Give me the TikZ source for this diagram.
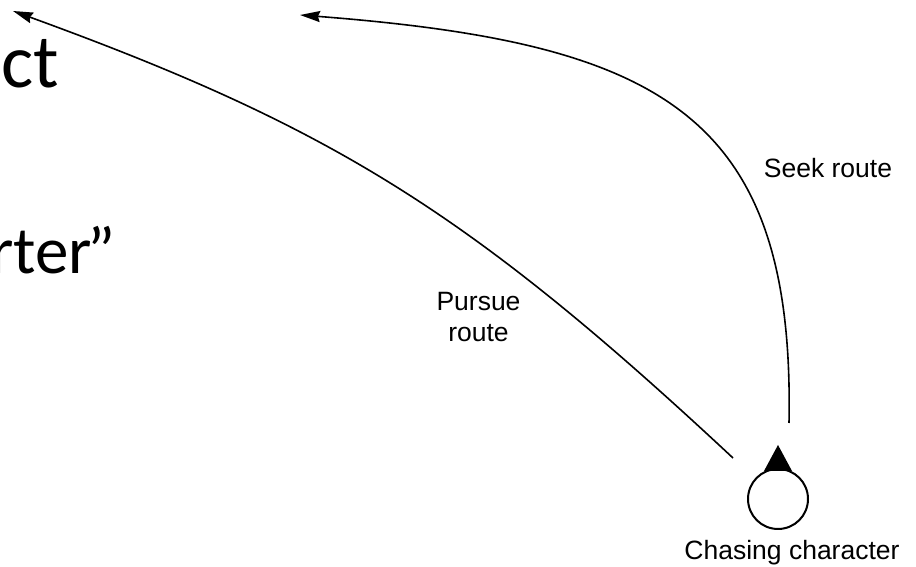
\documentclass[tikz,border=0pt]{standalone}
\usepackage{fontspec}
\setmainfont{Liberation Sans}
\newfontfamily\slidefont{Carlito}
\usetikzlibrary{arrows.meta,positioning}

\begin{document}
\begin{tikzpicture}[x=1pt,y=1pt,>={Stealth[length=20pt,width=11pt,inset=2pt]},
  lbl/.style={inner sep=0pt,font=\fontsize{26.5}{31}\selectfont,align=center},
  slide/.style={inner sep=0pt,anchor=base west,font=\slidefont\fontsize{76}{90}\selectfont},
  route/.style={line width=1.6pt}]
\useasboundingbox (0,0) rectangle (916,567);
% cut-off slide text on the left
\node[slide] (slideA) at (1,479) {ct};
\node[slide,font=\slidefont\fontsize{67}{80}\selectfont] (slideB) at (-10,293) {rter\kern-5pt”};
% the chasing character
\node[circle,draw,line width=2pt,minimum size=60pt,inner sep=0pt] (char) at (778,68) {};
\fill (char.north) ++(-14,-3) -- ++(14,26) -- ++(14,-26) -- cycle;
\node[lbl,anchor=base] (charlbl) at (792,7) {Chasing character};
% routes
\coordinate (pursueA) at (733,109);
\coordinate (pursueB) at (13,556);
\coordinate (seekA) at (789,144);
\coordinate (seekB) at (300,552);
\draw[route,->] (pursueA) .. controls (470,354.5) and (332.6,439.7) .. (pursueB);
\draw[route,->] (seekA) .. controls (795,454) and (660,524) .. (seekB);
\node[lbl,anchor=base] (seeklbl) at (828,389) {Seek route};
\node[lbl,anchor=north] (pursuelbl) at (478.5,275) {Pursue\\route};
\end{tikzpicture}
\end{document}
